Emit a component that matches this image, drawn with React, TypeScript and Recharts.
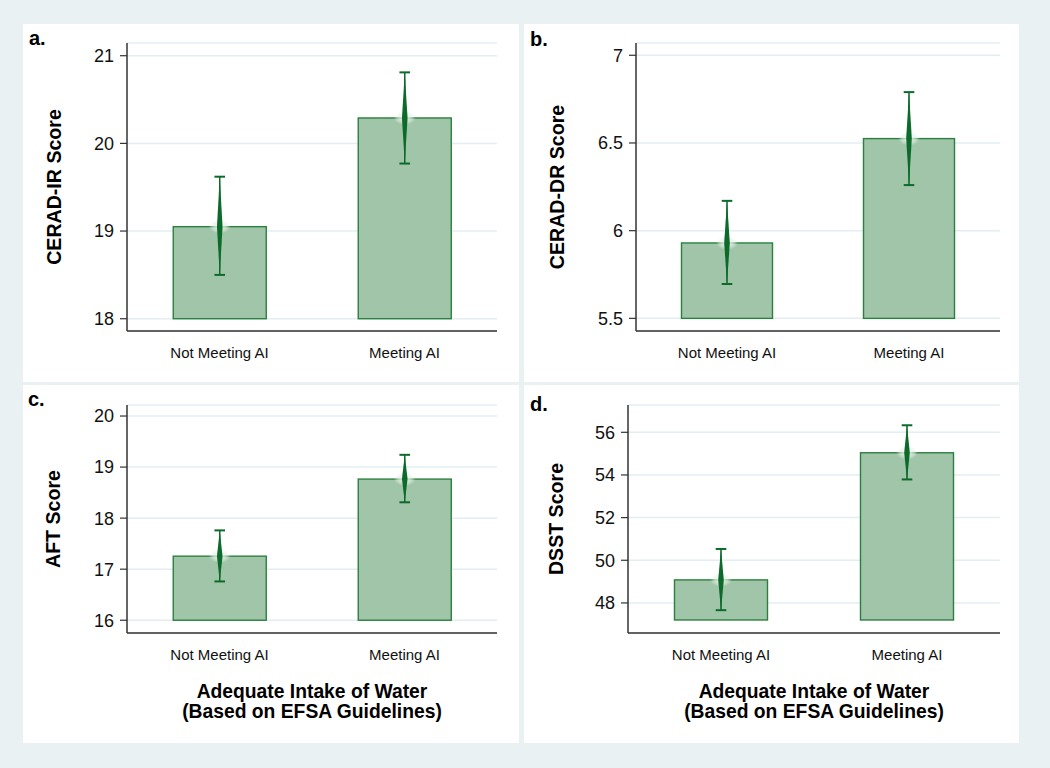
import { BarChart, Bar, XAxis, YAxis, CartesianGrid } from 'recharts';

const categories = ['Not Meeting AI', 'Meeting AI'];

// CERAD-IR
const irMean = [19.05, 20.29];
const irLow = [18.5, 19.77];
const irHigh = [19.62, 20.81];
const irTicks = [18, 19, 20, 21];

// CERAD-DR
const drMean = [5.93, 6.525];
const drLow = [5.696, 6.26];
const drHigh = [6.17, 6.79];
const drTicks = [5.5, 6, 6.5, 7];

// AFT
const aftMean = [17.255, 18.765];
const aftLow = [16.76, 18.31];
const aftHigh = [17.76, 19.24];
const aftTicks = [16, 17, 18, 19, 20];

// DSST
const dsstMean = [49.08, 55.04];
const dsstLow = [47.66, 53.79];
const dsstHigh = [50.53, 56.33];
const dsstTicks = [48, 50, 52, 54, 56];

const FONT = '"Liberation Sans", Arial, Helvetica, sans-serif';
const BAR_FILL = '#a1c5a8';
const BAR_STROKE = '#2b8040';
const CI_COLOR = '#0c6a2b';
const GRID = '#e2eef1';
const AXIS = '#333333';

function makeRows(mean: number[], low: number[], high: number[], base: number) {
  return categories.map((name, i) => ({
    name,
    base,
    mean: mean[i],
    lo: low[i],
    hi: high[i],
    range: [base, mean[i]],
  }));
}

function MeanBar(props: any) {
  const { x, y, width, height, payload, glowId } = props;
  const ppu = height / (payload.mean - payload.base);
  const cx = x + width / 2;
  const yHi = y - (payload.hi - payload.mean) * ppu;
  const yLo = y + (payload.mean - payload.lo) * ppu;
  return (
    <g>
      <rect x={x} y={y} width={width} height={height} fill={BAR_FILL} stroke={BAR_STROKE} strokeWidth={1.4} />
      <ellipse cx={cx} cy={y} rx={11} ry={7} fill={`url(#${glowId})`} />
      <line x1={cx} x2={cx} y1={yHi} y2={yLo} stroke={CI_COLOR} strokeWidth={1.5} />
      <polygon
        points={`${cx},${yHi} ${cx + 2.8},${y} ${cx},${yLo} ${cx - 2.8},${y}`}
        fill={CI_COLOR}
      />
      <line x1={cx - 5.3} x2={cx + 5.3} y1={yHi} y2={yHi} stroke={CI_COLOR} strokeWidth={2} />
      <line x1={cx - 5.3} x2={cx + 5.3} y1={yLo} y2={yLo} stroke={CI_COLOR} strokeWidth={2} />
    </g>
  );
}

interface PanelProps {
  id: string;
  letter: string;
  yTitle: string;
  rows: any[];
  domain: number[];
  ticks: number[];
  left: number;
  top: number;
  width: number;
  yWidth: number;
  xHeight: number;
  margin: { top: number; right: number; bottom: number; left: number };
  titleX: number;
  letterX: number;
  letterY: number;
  xTitle?: boolean;
}

function Panel(p: PanelProps) {
  const glowId = `glow-${p.id}`;
  return (
    <div style={{ position: 'absolute', left: p.left, top: p.top, width: p.width, height: 358, background: '#ffffff' }}>
      <span
        style={{
          position: 'absolute',
          left: p.letterX,
          top: p.letterY - 17,
          fontFamily: FONT,
          fontWeight: 'bold',
          fontSize: 20,
          lineHeight: '20px',
          color: '#000',
        }}
      >
        {p.letter}
      </span>
      <BarChart width={p.width} height={358} data={p.rows} margin={p.margin} barCategoryGap="25%">
        <defs>
          <radialGradient id={glowId}>
            <stop offset="0%" stopColor="#f2f8f3" stopOpacity={0.95} />
            <stop offset="60%" stopColor="#e4f0e6" stopOpacity={0.6} />
            <stop offset="100%" stopColor="#e4f0e6" stopOpacity={0} />
          </radialGradient>
        </defs>
        <CartesianGrid vertical={false} stroke={GRID} strokeWidth={1.5} />
        <XAxis
          dataKey="name"
          height={p.xHeight}
          tickLine={false}
          tickSize={0}
          tickMargin={16}
          axisLine={{ stroke: AXIS, strokeWidth: 1.5 }}
          tick={{ fontSize: 15, fill: '#111', fontFamily: FONT }}
          label={
            p.xTitle
              ? {
                  content: (lp: any) => {
                    const vb = lp.viewBox;
                    const cx = vb.x + vb.width / 2;
                    return (
                      <text textAnchor="middle" fontFamily={FONT} fontWeight="bold" fontSize={19.3} fill="#000">
                        <tspan x={cx} y={vb.y + 65}>Adequate Intake of Water</tspan>
                        <tspan x={cx} y={vb.y + 85}>(Based on EFSA Guidelines)</tspan>
                      </text>
                    );
                  },
                }
              : undefined
          }
        />
        <YAxis
          type="number"
          domain={p.domain}
          ticks={p.ticks}
          allowDataOverflow
          width={p.yWidth}
          tickSize={7}
          tickMargin={6}
          axisLine={{ stroke: AXIS, strokeWidth: 1.5 }}
          tickLine={{ stroke: AXIS, strokeWidth: 1.2 }}
          tick={{ fontSize: 18, fill: '#111', fontFamily: FONT }}
          label={{
            content: (lp: any) => {
              const vb = lp.viewBox;
              const cx = vb.x + p.titleX;
              const cy = vb.y + vb.height / 2;
              return (
                <text
                  x={cx}
                  y={cy}
                  transform={`rotate(-90, ${cx}, ${cy})`}
                  textAnchor="middle"
                  dominantBaseline="central"
                  fontFamily={FONT}
                  fontWeight="bold"
                  fontSize={19.6}
                  fill="#000"
                >
                  {p.yTitle}
                </text>
              );
            },
          }}
        />
        <Bar
          dataKey="range"
          isAnimationActive={false}
          shape={(sp: any) => <MeanBar {...sp} glowId={glowId} />}
        />
      </BarChart>
    </div>
  );
}

export default function App() {
  return (
    <div
      style={{
        position: 'absolute',
        left: 0,
        top: 0,
        width: 1050,
        height: 768,
        background: '#e9f1f3',
        fontFamily: FONT,
      }}
    >
      <Panel
        id="a"
        letter="a."
        yTitle="CERAD-IR Score"
        rows={makeRows(irMean, irLow, irHigh, 18)}
        domain={[17.86, 21.145]}
        ticks={irTicks}
        left={23}
        top={24}
        width={496}
        yWidth={104}
        xHeight={40}
        margin={{ top: 19, right: 22, bottom: 11, left: 0 }}
        titleX={31}
        letterX={6}
        letterY={21}
      />
      <Panel
        id="b"
        letter="b."
        yTitle="CERAD-DR Score"
        rows={makeRows(drMean, drLow, drHigh, 5.5)}
        domain={[5.428, 7.07]}
        ticks={drTicks}
        left={524}
        top={24}
        width={495}
        yWidth={112}
        xHeight={40}
        margin={{ top: 19, right: 19, bottom: 11, left: 0 }}
        titleX={33}
        letterX={6}
        letterY={22}
      />
      <Panel
        id="c"
        letter="c."
        yTitle="AFT Score"
        rows={makeRows(aftMean, aftLow, aftHigh, 16)}
        domain={[15.75, 20.216]}
        ticks={aftTicks}
        left={23}
        top={385}
        width={496}
        yWidth={104}
        xHeight={100}
        margin={{ top: 20, right: 22, bottom: 10, left: 0 }}
        titleX={30}
        letterX={5}
        letterY={21}
        xTitle
      />
      <Panel
        id="d"
        letter="d."
        yTitle="DSST Score"
        rows={makeRows(dsstMean, dsstLow, dsstHigh, 47.2)}
        domain={[46.59, 57.28]}
        ticks={dsstTicks}
        left={524}
        top={385}
        width={495}
        yWidth={104}
        xHeight={100}
        margin={{ top: 20, right: 19, bottom: 10, left: 0 }}
        titleX={32}
        letterX={6}
        letterY={26}
        xTitle
      />
    </div>
  );
}
